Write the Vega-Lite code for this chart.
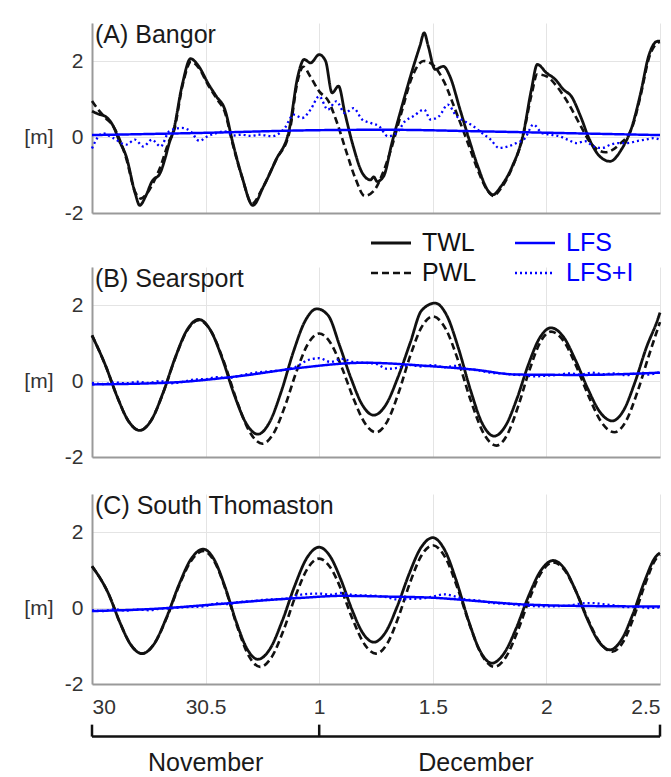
{
  "$schema": "https://vega.github.io/schema/vega-lite/v6.json",
  "padding": {"left": 23, "top": 23, "right": 0, "bottom": 0},
  "background": "white",
  "datasets": {
    "bangor": [
      {"t":0,"TWL":0.68},{"t":0.03,"TWL":0.6},{"t":0.057,"TWL":0.55},{"t":0.094,"TWL":0.28},{"t":0.12,"TWL":-0.1},{"t":0.15,"TWL":-0.5},{"t":0.19,"TWL":-1.48},{"t":0.21,"TWL":-1.8},{"t":0.236,"TWL":-1.56},{"t":0.264,"TWL":-1.17},{"t":0.3,"TWL":-0.95},{"t":0.32,"TWL":-0.6},{"t":0.34,"TWL":-0.16},{"t":0.358,"TWL":0.15},{"t":0.396,"TWL":1.34},{"t":0.434,"TWL":2.06},{"t":0.47,"TWL":1.86},{"t":0.51,"TWL":1.42},{"t":0.547,"TWL":1.07},{"t":0.585,"TWL":0.72},{"t":0.62,"TWL":-0.16},{"t":0.66,"TWL":-1.04},{"t":0.708,"TWL":-1.8},{"t":0.755,"TWL":-1.3},{"t":0.81,"TWL":-0.6},{"t":0.868,"TWL":0.19},{"t":0.906,"TWL":1.6},{"t":0.934,"TWL":2.04},{"t":0.962,"TWL":1.95},{"t":1.0,"TWL":2.17},{"t":1.028,"TWL":2.0},{"t":1.057,"TWL":1.16},{"t":1.085,"TWL":1.34},{"t":1.113,"TWL":0.63},{"t":1.15,"TWL":-0.25},{"t":1.19,"TWL":-0.95},{"t":1.226,"TWL":-1.13},{"t":1.24,"TWL":-1.05},{"t":1.255,"TWL":-1.17},{"t":1.283,"TWL":-1.04},{"t":1.32,"TWL":-0.16},{"t":1.36,"TWL":0.72},{"t":1.415,"TWL":1.86},{"t":1.443,"TWL":2.39},{"t":1.462,"TWL":2.74},{"t":1.48,"TWL":2.39},{"t":1.51,"TWL":1.78},{"t":1.547,"TWL":1.86},{"t":1.575,"TWL":1.6},{"t":1.62,"TWL":0.72},{"t":1.66,"TWL":-0.07},{"t":1.698,"TWL":-0.77},{"t":1.745,"TWL":-1.43},{"t":1.764,"TWL":-1.52},{"t":1.8,"TWL":-1.3},{"t":1.85,"TWL":-0.77},{"t":1.896,"TWL":0.02},{"t":1.934,"TWL":1.25},{"t":1.96,"TWL":1.91},{"t":2.0,"TWL":1.69},{"t":2.04,"TWL":1.51},{"t":2.075,"TWL":1.25},{"t":2.11,"TWL":1.07},{"t":2.15,"TWL":0.55},{"t":2.19,"TWL":-0.07},{"t":2.235,"TWL":-0.51},{"t":2.28,"TWL":-0.64},{"t":2.33,"TWL":-0.33},{"t":2.377,"TWL":0.28},{"t":2.415,"TWL":1.16},{"t":2.45,"TWL":2.13},{"t":2.49,"TWL":2.52},{"t":2.5,"TWL":2.52},
      {"t":0,"PWL":0.95},{"t":0.03,"PWL":0.7},{"t":0.06,"PWL":0.5},{"t":0.094,"PWL":0.28},{"t":0.15,"PWL":-0.55},{"t":0.19,"PWL":-1.45},{"t":0.215,"PWL":-1.62},{"t":0.24,"PWL":-1.5},{"t":0.27,"PWL":-1.2},{"t":0.3,"PWL":-0.8},{"t":0.34,"PWL":-0.1},{"t":0.36,"PWL":0.15},{"t":0.4,"PWL":1.4},{"t":0.436,"PWL":1.98},{"t":0.47,"PWL":1.82},{"t":0.51,"PWL":1.38},{"t":0.55,"PWL":1.0},{"t":0.585,"PWL":0.65},{"t":0.62,"PWL":-0.2},{"t":0.66,"PWL":-1.05},{"t":0.705,"PWL":-1.75},{"t":0.75,"PWL":-1.35},{"t":0.81,"PWL":-0.6},{"t":0.868,"PWL":0.1},{"t":0.906,"PWL":1.5},{"t":0.93,"PWL":1.85},{"t":0.96,"PWL":1.6},{"t":1.0,"PWL":1.2},{"t":1.04,"PWL":0.95},{"t":1.08,"PWL":0.35},{"t":1.12,"PWL":-0.4},{"t":1.16,"PWL":-1.1},{"t":1.2,"PWL":-1.55},{"t":1.24,"PWL":-1.42},{"t":1.28,"PWL":-0.95},{"t":1.32,"PWL":-0.25},{"t":1.36,"PWL":0.6},{"t":1.41,"PWL":1.6},{"t":1.46,"PWL":2.0},{"t":1.5,"PWL":1.9},{"t":1.55,"PWL":1.45},{"t":1.6,"PWL":0.7},{"t":1.66,"PWL":-0.25},{"t":1.7,"PWL":-0.9},{"t":1.74,"PWL":-1.4},{"t":1.765,"PWL":-1.55},{"t":1.8,"PWL":-1.35},{"t":1.85,"PWL":-0.8},{"t":1.896,"PWL":0.0},{"t":1.934,"PWL":1.1},{"t":1.96,"PWL":1.65},{"t":2.0,"PWL":1.6},{"t":2.05,"PWL":1.3},{"t":2.1,"PWL":0.85},{"t":2.15,"PWL":0.3},{"t":2.2,"PWL":-0.2},{"t":2.26,"PWL":-0.4},{"t":2.32,"PWL":-0.2},{"t":2.377,"PWL":0.25},{"t":2.415,"PWL":1.1},{"t":2.45,"PWL":2.05},{"t":2.49,"PWL":2.48},{"t":2.5,"PWL":2.5},
      {"t":0,"LFS":0.05},{"t":0.5,"LFS":0.11},{"t":1.0,"LFS":0.18},{"t":1.3,"LFS":0.19},{"t":1.7,"LFS":0.15},{"t":2.1,"LFS":0.1},{"t":2.5,"LFS":0.05},
      {"t":0,"LFS+I":-0.3},{"t":0.047,"LFS+I":0.1},{"t":0.094,"LFS+I":-0.03},{"t":0.151,"LFS+I":-0.2},{"t":0.189,"LFS+I":-0.07},{"t":0.226,"LFS+I":-0.25},{"t":0.264,"LFS+I":-0.07},{"t":0.302,"LFS+I":-0.25},{"t":0.34,"LFS+I":0.15},{"t":0.396,"LFS+I":0.24},{"t":0.434,"LFS+I":0.15},{"t":0.472,"LFS+I":-0.1},{"t":0.509,"LFS+I":0.02},{"t":0.547,"LFS+I":0.1},{"t":0.585,"LFS+I":0.15},{"t":0.623,"LFS+I":0.04},{"t":0.66,"LFS+I":0.06},{"t":0.7,"LFS+I":0.03},{"t":0.736,"LFS+I":0.06},{"t":0.792,"LFS+I":0.02},{"t":0.849,"LFS+I":0.24},{"t":0.887,"LFS+I":0.59},{"t":0.925,"LFS+I":0.5},{"t":0.962,"LFS+I":0.72},{"t":1.0,"LFS+I":1.07},{"t":1.038,"LFS+I":0.72},{"t":1.075,"LFS+I":0.94},{"t":1.113,"LFS+I":0.63},{"t":1.151,"LFS+I":0.76},{"t":1.189,"LFS+I":0.46},{"t":1.226,"LFS+I":0.37},{"t":1.264,"LFS+I":0.28},{"t":1.302,"LFS+I":0.02},{"t":1.34,"LFS+I":0.1},{"t":1.377,"LFS+I":0.41},{"t":1.415,"LFS+I":0.55},{"t":1.462,"LFS+I":0.72},{"t":1.49,"LFS+I":0.46},{"t":1.528,"LFS+I":0.55},{"t":1.566,"LFS+I":0.85},{"t":1.604,"LFS+I":0.55},{"t":1.642,"LFS+I":0.41},{"t":1.679,"LFS+I":0.28},{"t":1.717,"LFS+I":0.1},{"t":1.755,"LFS+I":-0.07},{"t":1.792,"LFS+I":-0.29},{"t":1.83,"LFS+I":-0.25},{"t":1.868,"LFS+I":-0.16},{"t":1.906,"LFS+I":-0.03},{"t":1.943,"LFS+I":0.33},{"t":1.981,"LFS+I":0.1},{"t":2.019,"LFS+I":0.06},{"t":2.057,"LFS+I":0.02},{"t":2.094,"LFS+I":-0.07},{"t":2.132,"LFS+I":-0.16},{"t":2.17,"LFS+I":-0.11},{"t":2.208,"LFS+I":-0.25},{"t":2.245,"LFS+I":-0.29},{"t":2.283,"LFS+I":-0.2},{"t":2.32,"LFS+I":-0.16},{"t":2.358,"LFS+I":-0.16},{"t":2.396,"LFS+I":-0.11},{"t":2.434,"LFS+I":-0.07},{"t":2.472,"LFS+I":-0.03},{"t":2.5,"LFS+I":-0.07}
    ],
    "searsport": [
      {"t":0,"TWL":1.2},{"t":0.06,"TWL":0.4},{"t":0.11,"TWL":-0.4},{"t":0.16,"TWL":-1.05},{"t":0.21,"TWL":-1.3},{"t":0.262,"TWL":-1.02},{"t":0.314,"TWL":-0.29},{"t":0.366,"TWL":0.61},{"t":0.418,"TWL":1.34},{"t":0.47,"TWL":1.62},{"t":0.522,"TWL":1.33},{"t":0.574,"TWL":0.58},{"t":0.626,"TWL":-0.36},{"t":0.678,"TWL":-1.11},{"t":0.73,"TWL":-1.4},{"t":0.782,"TWL":-1.08},{"t":0.834,"TWL":-0.26},{"t":0.886,"TWL":0.76},{"t":0.938,"TWL":1.58},{"t":0.99,"TWL":1.9},{"t":1.04,"TWL":1.72},{"t":1.09,"TWL":0.93},{"t":1.14,"TWL":0.07},{"t":1.19,"TWL":-0.63},{"t":1.24,"TWL":-0.9},{"t":1.294,"TWL":-0.62},{"t":1.348,"TWL":0.12},{"t":1.402,"TWL":1.03},{"t":1.45,"TWL":1.85},{"t":1.51,"TWL":2.05},{"t":1.562,"TWL":1.72},{"t":1.614,"TWL":0.84},{"t":1.666,"TWL":-0.24},{"t":1.718,"TWL":-1.12},{"t":1.77,"TWL":-1.45},{"t":1.82,"TWL":-1.18},{"t":1.87,"TWL":-0.47},{"t":1.92,"TWL":0.42},{"t":1.97,"TWL":1.13},{"t":2.02,"TWL":1.4},{"t":2.074,"TWL":1.17},{"t":2.128,"TWL":0.55},{"t":2.182,"TWL":-0.2},{"t":2.236,"TWL":-0.82},{"t":2.29,"TWL":-1.05},{"t":2.34,"TWL":-0.77},{"t":2.39,"TWL":-0.03},{"t":2.44,"TWL":0.88},{"t":2.49,"TWL":1.62},{"t":2.5,"TWL":1.8},
      {"t":0,"PWL":1.2},{"t":0.06,"PWL":0.4},{"t":0.11,"PWL":-0.4},{"t":0.16,"PWL":-1.05},{"t":0.21,"PWL":-1.3},{"t":0.262,"PWL":-1.02},{"t":0.314,"PWL":-0.3},{"t":0.366,"PWL":0.6},{"t":0.418,"PWL":1.32},{"t":0.47,"PWL":1.6},{"t":0.526,"PWL":1.29},{"t":0.582,"PWL":0.48},{"t":0.638,"PWL":-0.53},{"t":0.694,"PWL":-1.34},{"t":0.75,"PWL":-1.65},{"t":0.8,"PWL":-1.37},{"t":0.85,"PWL":-0.65},{"t":0.9,"PWL":0.25},{"t":0.95,"PWL":0.97},{"t":1.0,"PWL":1.25},{"t":1.05,"PWL":1.0},{"t":1.1,"PWL":0.35},{"t":1.15,"PWL":-0.45},{"t":1.2,"PWL":-1.1},{"t":1.25,"PWL":-1.35},{"t":1.3,"PWL":-1.06},{"t":1.35,"PWL":-0.3},{"t":1.4,"PWL":0.65},{"t":1.45,"PWL":1.41},{"t":1.5,"PWL":1.7},{"t":1.556,"PWL":1.38},{"t":1.612,"PWL":0.53},{"t":1.668,"PWL":-0.53},{"t":1.724,"PWL":-1.38},{"t":1.78,"PWL":-1.7},{"t":1.828,"PWL":-1.41},{"t":1.876,"PWL":-0.66},{"t":1.924,"PWL":0.26},{"t":1.972,"PWL":1.01},{"t":2.02,"PWL":1.3},{"t":2.076,"PWL":1.05},{"t":2.132,"PWL":0.38},{"t":2.188,"PWL":-0.43},{"t":2.244,"PWL":-1.1},{"t":2.3,"PWL":-1.35},{"t":2.35,"PWL":-1.06},{"t":2.4,"PWL":-0.3},{"t":2.45,"PWL":0.65},{"t":2.5,"PWL":1.55},
      {"t":0,"LFS":-0.09},{"t":0.35,"LFS":-0.04},{"t":0.65,"LFS":0.13},{"t":0.92,"LFS":0.35},{"t":1.2,"LFS":0.48},{"t":1.49,"LFS":0.39},{"t":1.68,"LFS":0.3},{"t":1.87,"LFS":0.17},{"t":2.15,"LFS":0.16},{"t":2.5,"LFS":0.22},
      {"t":0,"LFS+I":-0.05},{"t":0.05,"LFS+I":-0.08},{"t":0.1,"LFS+I":-0.04},{"t":0.15,"LFS+I":-0.06},{"t":0.2,"LFS+I":-0.02},{"t":0.25,"LFS+I":-0.05},{"t":0.3,"LFS+I":0.0},{"t":0.35,"LFS+I":-0.06},{"t":0.4,"LFS+I":-0.02},{"t":0.45,"LFS+I":0.04},{"t":0.5,"LFS+I":0.05},{"t":0.55,"LFS+I":0.1},{"t":0.6,"LFS+I":0.08},{"t":0.65,"LFS+I":0.14},{"t":0.7,"LFS+I":0.2},{"t":0.75,"LFS+I":0.24},{"t":0.8,"LFS+I":0.26},{"t":0.85,"LFS+I":0.3},{"t":0.9,"LFS+I":0.38},{"t":0.95,"LFS+I":0.55},{"t":1.0,"LFS+I":0.6},{"t":1.05,"LFS+I":0.5},{"t":1.1,"LFS+I":0.58},{"t":1.15,"LFS+I":0.5},{"t":1.2,"LFS+I":0.48},{"t":1.25,"LFS+I":0.45},{"t":1.3,"LFS+I":0.32},{"t":1.35,"LFS+I":0.35},{"t":1.4,"LFS+I":0.42},{"t":1.45,"LFS+I":0.38},{"t":1.5,"LFS+I":0.42},{"t":1.55,"LFS+I":0.36},{"t":1.6,"LFS+I":0.4},{"t":1.65,"LFS+I":0.32},{"t":1.7,"LFS+I":0.28},{"t":1.75,"LFS+I":0.22},{"t":1.8,"LFS+I":0.2},{"t":1.85,"LFS+I":0.17},{"t":1.9,"LFS+I":0.15},{"t":1.95,"LFS+I":0.12},{"t":2.0,"LFS+I":0.14},{"t":2.05,"LFS+I":0.16},{"t":2.1,"LFS+I":0.2},{"t":2.15,"LFS+I":0.17},{"t":2.2,"LFS+I":0.22},{"t":2.25,"LFS+I":0.18},{"t":2.3,"LFS+I":0.2},{"t":2.35,"LFS+I":0.15},{"t":2.4,"LFS+I":0.2},{"t":2.45,"LFS+I":0.17},{"t":2.5,"LFS+I":0.24}
    ],
    "thomaston": [
      {"t":0,"TWL":1.1},{"t":0.073,"TWL":0.37},{"t":0.122,"TWL":-0.37},{"t":0.171,"TWL":-0.97},{"t":0.22,"TWL":-1.2},{"t":0.274,"TWL":-0.94},{"t":0.328,"TWL":-0.25},{"t":0.382,"TWL":0.6},{"t":0.436,"TWL":1.29},{"t":0.49,"TWL":1.55},{"t":0.538,"TWL":1.27},{"t":0.586,"TWL":0.55},{"t":0.634,"TWL":-0.35},{"t":0.682,"TWL":-1.07},{"t":0.73,"TWL":-1.35},{"t":0.784,"TWL":-1.07},{"t":0.838,"TWL":-0.33},{"t":0.892,"TWL":0.58},{"t":0.946,"TWL":1.32},{"t":1.0,"TWL":1.6},{"t":1.048,"TWL":1.36},{"t":1.096,"TWL":0.74},{"t":1.144,"TWL":-0.04},{"t":1.192,"TWL":-0.66},{"t":1.24,"TWL":-0.9},{"t":1.292,"TWL":-0.64},{"t":1.344,"TWL":0.05},{"t":1.396,"TWL":0.9},{"t":1.448,"TWL":1.59},{"t":1.5,"TWL":1.85},{"t":1.552,"TWL":1.53},{"t":1.604,"TWL":0.71},{"t":1.656,"TWL":-0.31},{"t":1.708,"TWL":-1.13},{"t":1.76,"TWL":-1.45},{"t":1.814,"TWL":-1.19},{"t":1.868,"TWL":-0.52},{"t":1.922,"TWL":0.32},{"t":1.976,"TWL":0.99},{"t":2.03,"TWL":1.25},{"t":2.08,"TWL":1.03},{"t":2.13,"TWL":0.44},{"t":2.18,"TWL":-0.29},{"t":2.23,"TWL":-0.88},{"t":2.28,"TWL":-1.1},{"t":2.33,"TWL":-0.84},{"t":2.38,"TWL":-0.17},{"t":2.43,"TWL":0.67},{"t":2.48,"TWL":1.34},{"t":2.5,"TWL":1.45},
      {"t":0,"PWL":1.1},{"t":0.073,"PWL":0.37},{"t":0.122,"PWL":-0.37},{"t":0.171,"PWL":-0.97},{"t":0.22,"PWL":-1.2},{"t":0.274,"PWL":-0.94},{"t":0.328,"PWL":-0.27},{"t":0.382,"PWL":0.57},{"t":0.436,"PWL":1.24},{"t":0.49,"PWL":1.5},{"t":0.54,"PWL":1.21},{"t":0.59,"PWL":0.45},{"t":0.64,"PWL":-0.5},{"t":0.69,"PWL":-1.26},{"t":0.74,"PWL":-1.55},{"t":0.792,"PWL":-1.28},{"t":0.844,"PWL":-0.57},{"t":0.896,"PWL":0.32},{"t":0.948,"PWL":1.03},{"t":1.0,"PWL":1.3},{"t":1.05,"PWL":1.06},{"t":1.1,"PWL":0.44},{"t":1.15,"PWL":-0.34},{"t":1.2,"PWL":-0.96},{"t":1.25,"PWL":-1.2},{"t":1.3,"PWL":-0.93},{"t":1.35,"PWL":-0.22},{"t":1.4,"PWL":0.67},{"t":1.45,"PWL":1.38},{"t":1.5,"PWL":1.65},{"t":1.554,"PWL":1.34},{"t":1.608,"PWL":0.54},{"t":1.662,"PWL":-0.44},{"t":1.716,"PWL":-1.24},{"t":1.77,"PWL":-1.55},{"t":1.822,"PWL":-1.29},{"t":1.874,"PWL":-0.6},{"t":1.926,"PWL":0.25},{"t":1.978,"PWL":0.94},{"t":2.03,"PWL":1.2},{"t":2.082,"PWL":0.98},{"t":2.134,"PWL":0.39},{"t":2.186,"PWL":-0.34},{"t":2.238,"PWL":-0.93},{"t":2.29,"PWL":-1.15},{"t":2.338,"PWL":-0.89},{"t":2.386,"PWL":-0.22},{"t":2.434,"PWL":0.62},{"t":2.482,"PWL":1.29},{"t":2.5,"PWL":1.4},
      {"t":0,"LFS":-0.08},{"t":0.25,"LFS":-0.03},{"t":0.55,"LFS":0.1},{"t":0.8,"LFS":0.22},{"t":0.93,"LFS":0.27},{"t":1.1,"LFS":0.32},{"t":1.3,"LFS":0.3},{"t":1.5,"LFS":0.27},{"t":1.7,"LFS":0.18},{"t":1.88,"LFS":0.1},{"t":2.2,"LFS":0.05},{"t":2.5,"LFS":0.04},
      {"t":0,"LFS+I":-0.06},{"t":0.05,"LFS+I":-0.08},{"t":0.1,"LFS+I":-0.03},{"t":0.15,"LFS+I":-0.07},{"t":0.2,"LFS+I":-0.04},{"t":0.25,"LFS+I":-0.06},{"t":0.3,"LFS+I":-0.02},{"t":0.35,"LFS+I":-0.01},{"t":0.4,"LFS+I":0.02},{"t":0.45,"LFS+I":0.03},{"t":0.5,"LFS+I":0.05},{"t":0.55,"LFS+I":0.12},{"t":0.6,"LFS+I":0.1},{"t":0.65,"LFS+I":0.16},{"t":0.7,"LFS+I":0.18},{"t":0.75,"LFS+I":0.21},{"t":0.8,"LFS+I":0.23},{"t":0.85,"LFS+I":0.24},{"t":0.9,"LFS+I":0.33},{"t":0.95,"LFS+I":0.37},{"t":1.0,"LFS+I":0.38},{"t":1.05,"LFS+I":0.35},{"t":1.1,"LFS+I":0.4},{"t":1.15,"LFS+I":0.34},{"t":1.2,"LFS+I":0.33},{"t":1.25,"LFS+I":0.32},{"t":1.3,"LFS+I":0.28},{"t":1.35,"LFS+I":0.22},{"t":1.4,"LFS+I":0.24},{"t":1.45,"LFS+I":0.25},{"t":1.5,"LFS+I":0.3},{"t":1.55,"LFS+I":0.36},{"t":1.6,"LFS+I":0.3},{"t":1.65,"LFS+I":0.22},{"t":1.7,"LFS+I":0.2},{"t":1.75,"LFS+I":0.14},{"t":1.8,"LFS+I":0.12},{"t":1.85,"LFS+I":0.1},{"t":1.9,"LFS+I":0.06},{"t":1.95,"LFS+I":0.05},{"t":2.0,"LFS+I":0.04},{"t":2.05,"LFS+I":0.05},{"t":2.1,"LFS+I":0.06},{"t":2.15,"LFS+I":0.12},{"t":2.2,"LFS+I":0.13},{"t":2.25,"LFS+I":0.1},{"t":2.3,"LFS+I":0.07},{"t":2.35,"LFS+I":0.02},{"t":2.4,"LFS+I":0.03},{"t":2.45,"LFS+I":0.0},{"t":2.5,"LFS+I":0.02}
    ]
  },
  "bounds": "flush",
  "spacing": 54,
  "resolve": {"scale": {"y": "independent"}},
  "vconcat": [
    {
      "width": 568,
      "height": 190,
      "layer": [
        {
          "data": {"name": "bangor"},
          "transform": [
            {"fold": ["LFS+I", "LFS", "PWL", "TWL"], "as": ["series", "value"]},
            {"filter": "isValid(datum.value)"}
          ],
          "mark": {"type": "line", "interpolate": "monotone"},
          "encoding": {
            "x": {"field": "t", "type": "quantitative", "scale": {"domain": [0, 2.5], "nice": false},
                  "axis": {"values": [0, 0.5, 1, 1.5, 2, 2.5], "labels": false, "title": null, "grid": true}},
            "y": {"field": "value", "type": "quantitative", "scale": {"domain": [-2, 3], "nice": false},
                  "axis": {"values": [-2, 0, 2], "labelExpr": "datum.value < 0 ? '-' + abs(datum.value) : '' + datum.value", "title": "[m]", "titleAngle": 0, "titleAlign": "right", "titleBaseline": "middle", "titleX": -39, "titleY": 114, "grid": true}},
            "color": {"field": "series", "type": "nominal",
                      "scale": {"domain": ["TWL", "PWL", "LFS", "LFS+I"], "range": ["#111111", "#111111", "#0000ff", "#0000ff"]},
                      "legend": {"title": null, "orient": "none", "legendX": 285, "legendY": 206, "columns": 2,
                                 "symbolType": "M-1.6,0H1.6", "symbolSize": 625, "symbolStrokeWidth": 2.6,
                                 "labelFontSize": 25, "labelOffset": 17, "columnPadding": 33, "rowPadding": 3, "padding": 0,
                                 "labelBaseline": "middle",
                                 "encode": {"labels": {"update": {"fill": {"signal": "datum.value === 'LFS' || datum.value === 'LFS+I' ? '#0000ff' : '#111111'"}}}}}},
            "strokeDash": {"field": "series", "type": "nominal",
                           "scale": {"domain": ["TWL", "PWL", "LFS", "LFS+I"], "range": [[1, 0], [7, 4], [1, 0], [2, 3]]}},
            "strokeWidth": {"field": "series", "type": "nominal",
                            "scale": {"domain": ["TWL", "PWL", "LFS", "LFS+I"], "range": [2.8, 2.3, 3.2, 2]}, "legend": null}
          }
        },
        {
          "data": {"values": [{"label": "(A) Bangor"}]},
          "mark": {"type": "text", "align": "left", "baseline": "top", "fontSize": 25, "dx": 3, "color": "#1a1a1a"},
          "encoding": {"x": {"datum": 0}, "y": {"datum": 3}, "text": {"field": "label"}}
        }
      ]
    },
    {
      "bounds": "flush",
      "spacing": 37,
      "resolve": {"scale": {"y": "independent"}},
      "vconcat": [
        {
          "width": 568,
          "height": 190,
          "layer": [
            {
              "data": {"name": "searsport"},
              "transform": [
                {"fold": ["LFS+I", "LFS", "PWL", "TWL"], "as": ["series", "value"]},
                {"filter": "isValid(datum.value)"}
              ],
              "mark": {"type": "line", "interpolate": "monotone"},
              "encoding": {
                "x": {"field": "t", "type": "quantitative", "scale": {"domain": [0, 2.5], "nice": false},
                      "axis": {"values": [0, 0.5, 1, 1.5, 2, 2.5], "labels": false, "title": null, "grid": true}},
                "y": {"field": "value", "type": "quantitative", "scale": {"domain": [-2, 3], "nice": false},
                      "axis": {"values": [-2, 0, 2], "labelExpr": "datum.value < 0 ? '-' + abs(datum.value) : '' + datum.value", "title": "[m]", "titleAngle": 0, "titleAlign": "right", "titleBaseline": "middle", "titleX": -39, "titleY": 114, "grid": true}},
                "color": {"field": "series", "type": "nominal", "scale": {"domain": ["TWL", "PWL", "LFS", "LFS+I"], "range": ["#111111", "#111111", "#0000ff", "#0000ff"]}, "legend": null},
                "strokeDash": {"field": "series", "type": "nominal", "scale": {"domain": ["TWL", "PWL", "LFS", "LFS+I"], "range": [[1, 0], [7, 4], [1, 0], [2, 3]]}, "legend": null},
                "strokeWidth": {"field": "series", "type": "nominal", "scale": {"domain": ["TWL", "PWL", "LFS", "LFS+I"], "range": [2.8, 2.3, 3.2, 2]}, "legend": null}
              }
            },
            {
              "data": {"values": [{"label": "(B) Searsport"}]},
              "mark": {"type": "text", "align": "left", "baseline": "top", "fontSize": 25, "dx": 3, "color": "#1a1a1a"},
              "encoding": {"x": {"datum": 0}, "y": {"datum": 3}, "text": {"field": "label"}}
            }
          ]
        },
        {
          "width": 568,
          "height": 190,
          "layer": [
            {
              "data": {"name": "thomaston"},
              "transform": [
                {"fold": ["LFS+I", "LFS", "PWL", "TWL"], "as": ["series", "value"]},
                {"filter": "isValid(datum.value)"}
              ],
              "mark": {"type": "line", "interpolate": "monotone"},
              "encoding": {
                "x": {"field": "t", "type": "quantitative", "scale": {"domain": [0, 2.5], "nice": false},
                      "axis": {"values": [0, 0.5, 1, 1.5, 2, 2.5], "title": null, "grid": true, "labelPadding": 12,
                               "labelExpr": "datum.value < 1 ? format(30 + datum.value, '') : format(datum.value, '')"}},
                "y": {"field": "value", "type": "quantitative", "scale": {"domain": [-2, 3], "nice": false},
                      "axis": {"values": [-2, 0, 2], "labelExpr": "datum.value < 0 ? '-' + abs(datum.value) : '' + datum.value", "title": "[m]", "titleAngle": 0, "titleAlign": "right", "titleBaseline": "middle", "titleX": -39, "titleY": 114, "grid": true}},
                "color": {"field": "series", "type": "nominal", "scale": {"domain": ["TWL", "PWL", "LFS", "LFS+I"], "range": ["#111111", "#111111", "#0000ff", "#0000ff"]}, "legend": null},
                "strokeDash": {"field": "series", "type": "nominal", "scale": {"domain": ["TWL", "PWL", "LFS", "LFS+I"], "range": [[1, 0], [7, 4], [1, 0], [2, 3]]}, "legend": null},
                "strokeWidth": {"field": "series", "type": "nominal", "scale": {"domain": ["TWL", "PWL", "LFS", "LFS+I"], "range": [2.8, 2.3, 3.2, 2]}, "legend": null}
              }
            },
            {
              "data": {"values": [{"label": "(C) South Thomaston"}]},
              "mark": {"type": "text", "align": "left", "baseline": "top", "fontSize": 25, "dx": 3, "color": "#1a1a1a"},
              "encoding": {"x": {"datum": 0}, "y": {"datum": 3}, "text": {"field": "label"}}
            }
          ]
        },
        {
          "width": 568,
          "height": 52,
          "layer": [
            {
              "data": {"values": [{"start": 0, "end": 2.5}]},
              "mark": {"type": "rule", "strokeWidth": 2.5, "color": "#111111"},
              "encoding": {
                "x": {"field": "start", "type": "quantitative", "scale": {"domain": [0, 2.5], "nice": false}, "axis": null},
                "x2": {"field": "end"},
                "y": {"datum": 0.7, "type": "quantitative", "scale": {"domain": [0, 1]}, "axis": null}
              }
            },
            {
              "data": {"values": [{"t": 0}, {"t": 1}, {"t": 2.5}]},
              "mark": {"type": "rule", "strokeWidth": 2.5, "color": "#111111"},
              "encoding": {
                "x": {"field": "t", "type": "quantitative"},
                "y": {"datum": 0.7, "type": "quantitative"},
                "y2": {"datum": 0.93}
              }
            },
            {
              "data": {"values": [{"month": "November", "mid": 0.5}, {"month": "December", "mid": 1.69}]},
              "mark": {"type": "text", "fontSize": 25, "baseline": "middle", "color": "#1a1a1a"},
              "encoding": {
                "x": {"field": "mid", "type": "quantitative"},
                "y": {"datum": 0.2, "type": "quantitative"},
                "text": {"field": "month"}
              }
            }
          ]
        }
      ]
    }
  ],
  "config": {
    "font": "Liberation Sans",
    "view": {"stroke": null},
    "axis": {
      "labelFont": "Liberation Sans",
      "labelFontSize": 21,
      "labelColor": "#333333",
      "labelPadding": 9,
      "titleFont": "Liberation Sans",
      "titleFontSize": 21,
      "titleFontWeight": "normal",
      "titleColor": "#333333",
      "domainColor": "#9a9a9a",
      "domainWidth": 2,
      "gridColor": "#e4e4e4",
      "gridWidth": 1,
      "ticks": false
    },
    "legend": {"labelFont": "Liberation Sans"}
  }
}
